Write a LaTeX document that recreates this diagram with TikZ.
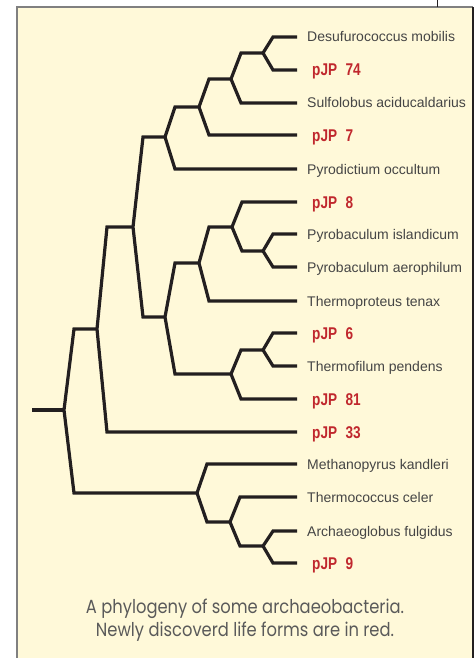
\documentclass[tikz,border=0pt]{standalone}
\usepackage{fontspec}
\usetikzlibrary{positioning,calc}
\newfontfamily\leaffont{Liberation Sans}
\newfontfamily\pjpfont{Liberation Sans}[FakeStretch=0.8]
\newfontfamily\capfont{Poppins}[FakeStretch=0.86]
\definecolor{krem}{HTML}{FFF9D9}
\definecolor{ranting}{HTML}{231F20}
\definecolor{pjpred}{HTML}{C0272D}
\definecolor{namegray}{HTML}{454545}
\definecolor{capgray}{HTML}{5A5A5A}
\begin{document}
\begin{tikzpicture}[x=1pt,y=-1pt,
      limb/.style={line width=3.2pt,draw=ranting},
      leaf/.style={inner sep=0pt,text=namegray,text height=10pt,text depth=0pt,
        font=\leaffont\fontsize{14}{16}\selectfont},
      newleaf/.style={inner sep=0pt,text=pjpred,text height=12pt,text depth=0pt,
        font=\pjpfont\bfseries\fontsize{17}{19}\selectfont},
      caption/.style={align=center,text=capgray,inner sep=0pt,
        font=\capfont\fontsize{19}{23}\selectfont}]
    \useasboundingbox (0,0) rectangle (475,658);

    % Bingkai
    \fill[krem] (17,7) rectangle (474,658);
    \draw[gray,line width=1.5pt] (17,658) -- (17,7) -- (473,7);
    \draw[ranting,line width=1.5pt] (473,7) -- (473,658);
    \draw[ranting,line width=0.8pt] (437,0) -- (437,7);

    % Titik percabangan
    \coordinate (root) at (32,410);
    \coordinate (r) at (64,410);
    \coordinate (a) at (97,329);
    \coordinate (b) at (197,493);
    \coordinate (f) at (133,227);
    \coordinate (d) at (165,137);
    \coordinate (g) at (165,317);
    \coordinate (e) at (199,107);
    \coordinate (e2) at (231,79);
    \coordinate (q) at (263,53);
    \coordinate (h) at (199,263);
    \coordinate (j) at (232,227);
    \coordinate (k) at (263,251);
    \coordinate (i) at (231,374);
    \coordinate (l) at (263,350);
    \coordinate (m) at (230,522);
    \coordinate (n) at (263,546);

    % Ujung daun
    \coordinate (t1) at (297,37);
    \coordinate (t2) at (297,70);
    \coordinate (t3) at (297,103);
    \coordinate (t4) at (297,135);
    \coordinate (t5) at (297,169);
    \coordinate (t6) at (297,202);
    \coordinate (t7) at (297,234);
    \coordinate (t8) at (297,267);
    \coordinate (t9) at (297,301);
    \coordinate (t10) at (297,333);
    \coordinate (t11) at (297,366);
    \coordinate (t12) at (297,399);
    \coordinate (t13) at (297,432);
    \coordinate (t14) at (297,464);
    \coordinate (t15) at (297,497);
    \coordinate (t16) at (297,531);
    \coordinate (t17) at (297,563);

    \node[leaf,right=10pt of t1] (n1) {Desufurococcus mobilis};
    \node[newleaf,right=15pt of t2] (n2) {pJP\enspace 74};
    \node[leaf,right=10pt of t3] (n3) {Sulfolobus aciducaldarius};
    \node[newleaf,right=15pt of t4] (n4) {pJP\enspace 7};
    \node[leaf,right=10pt of t5] (n5) {Pyrodictium occultum};
    \node[newleaf,right=15pt of t6] (n6) {pJP\enspace 8};
    \node[leaf,right=10pt of t7] (n7) {Pyrobaculum islandicum};
    \node[leaf,right=10pt of t8] (n8) {Pyrobaculum aerophilum};
    \node[leaf,right=10pt of t9] (n9) {Thermoproteus tenax};
    \node[newleaf,right=15pt of t10] (n10) {pJP\enspace 6};
    \node[leaf,right=10pt of t11] (n11) {Thermofilum pendens};
    \node[newleaf,right=15pt of t12] (n12) {pJP\enspace 81};
    \node[newleaf,right=15pt of t13] (n13) {pJP\enspace 33};
    \node[leaf,right=10pt of t14] (n14) {Methanopyrus kandleri};
    \node[leaf,right=10pt of t15] (n15) {Thermococcus celer};
    \node[leaf,right=10pt of t16] (n16) {Archaeoglobus fulgidus};
    \node[newleaf,right=15pt of t17] (n17) {pJP\enspace 9};

    % Cabang
    \draw[limb] (root) -- (r);
    \draw[limb] (a) -- ($(r |- a)+(10,0)$) -- (r) -- ($(r |- b)+(10,0)$) -- (b);
    \draw[limb] (f) -- ($(a |- f)+(10,0)$) -- (a) -- ($(a |- t13)+(10,0)$) -- (t13);
    \draw[limb] (t14) -- ($(b |- t14)+(10,0)$) -- (b) -- ($(b |- m)+(10,0)$) -- (m);
    \draw[limb] (d) -- ($(f |- d)+(10,0)$) -- (f) -- ($(f |- g)+(10,0)$) -- (g);
    \draw[limb] (e) -- ($(d |- e)+(10,0)$) -- (d) -- ($(d |- t5)+(10,0)$) -- (t5);
    \draw[limb] (e2) -- ($(e |- e2)+(10,0)$) -- (e) -- ($(e |- t4)+(10,0)$) -- (t4);
    \draw[limb] (q) -- ($(e2 |- q)+(10,0)$) -- (e2) -- ($(e2 |- t3)+(10,0)$) -- (t3);
    \draw[limb] (t1) -- ($(q |- t1)+(10,0)$) -- (q) -- ($(q |- t2)+(10,0)$) -- (t2);
    \draw[limb] (h) -- ($(g |- h)+(10,0)$) -- (g) -- ($(g |- i)+(10,0)$) -- (i);
    \draw[limb] (j) -- ($(h |- j)+(10,0)$) -- (h) -- ($(h |- t9)+(10,0)$) -- (t9);
    \draw[limb] (t6) -- ($(j |- t6)+(10,0)$) -- (j) -- ($(j |- k)+(10,0)$) -- (k);
    \draw[limb] (t7) -- ($(k |- t7)+(10,0)$) -- (k) -- ($(k |- t8)+(10,0)$) -- (t8);
    \draw[limb] (l) -- ($(i |- l)+(10,0)$) -- (i) -- ($(i |- t12)+(10,0)$) -- (t12);
    \draw[limb] (t10) -- ($(l |- t10)+(10,0)$) -- (l) -- ($(l |- t11)+(10,0)$) -- (t11);
    \draw[limb] (t15) -- ($(m |- t15)+(10,0)$) -- (m) -- ($(m |- n)+(10,0)$) -- (n);
    \draw[limb] (t16) -- ($(n |- t16)+(10,0)$) -- (n) -- ($(n |- t17)+(10,0)$) -- (t17);

    % Keterangan
    \node[caption] (ket) at (245,620) {A phylogeny of some archaeobacteria.\\
      Newly discoverd life forms are in red.};
  \end{tikzpicture}
\end{document}
